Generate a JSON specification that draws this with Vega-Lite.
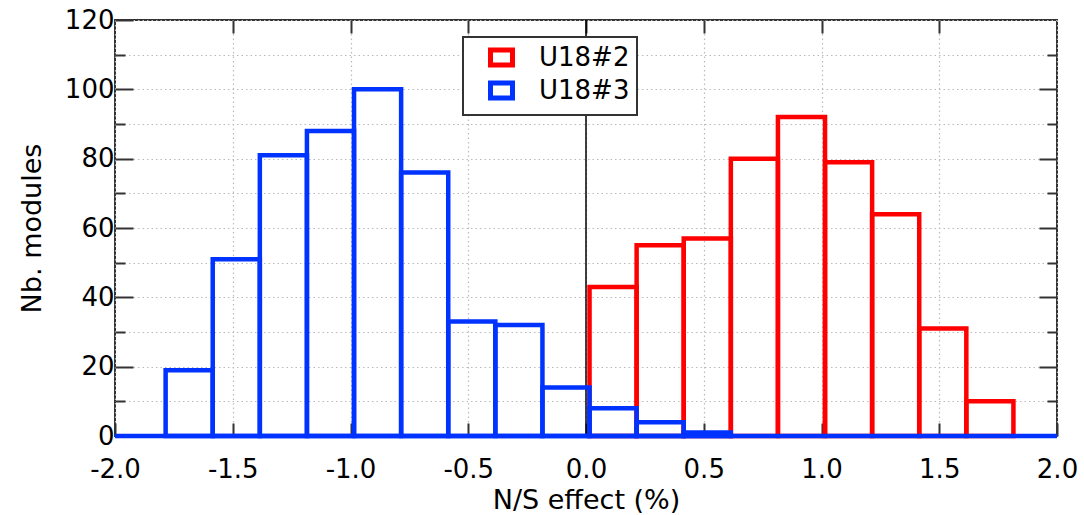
{
  "$schema": "https://vega.github.io/schema/vega-lite/v6.json",
  "width": 942,
  "height": 416,
  "autosize": "none",
  "padding": {"left": 115, "top": 20, "right": 27, "bottom": 79},
  "config": {
    "font": "DejaVu Sans",
    "view": {"stroke": "#333", "strokeWidth": 2},
    "axis": {
      "domain": false,
      "tickColor": "#333",
      "tickWidth": 2,
      "labelColor": "#000",
      "labelFontSize": 26,
      "labelFlush": false,
      "titleFontSize": 27,
      "titleFontWeight": "normal",
      "titleColor": "#000",
      "gridColor": "#bbbbbb",
      "gridDash": [1.5, 3],
      "gridWidth": 1.2
    },
    "legend": {
      "labelFontSize": 26,
      "labelColor": "#000"
    }
  },
  "resolve": {"axis": {"x": "independent", "y": "independent"}},
  "layer": [
    {
      "data": {"values": [{"x": 0, "y0": 0, "y1": 120}]},
      "mark": {"type": "rule", "color": "#000", "strokeWidth": 1.5},
      "encoding": {
        "x": {"field": "x", "type": "quantitative", "scale": {"domain": [-2, 2], "nice": false}, "axis": null},
        "y": {"field": "y0", "type": "quantitative", "scale": {"domain": [0, 120], "nice": false},
          "axis": {"orient": "right", "values": [10, 30, 50, 70, 90, 110], "tickSize": -10, "labels": false, "grid": false, "title": null}},
        "y2": {"field": "y1"}
      }
    },
    {
      "data": {"values": [
        {"series": "U18#2", "x0": 0.015, "x1": 0.215, "count": 43},
        {"series": "U18#2", "x0": 0.215, "x1": 0.415, "count": 55},
        {"series": "U18#2", "x0": 0.415, "x1": 0.615, "count": 57},
        {"series": "U18#2", "x0": 0.615, "x1": 0.815, "count": 80},
        {"series": "U18#2", "x0": 0.815, "x1": 1.015, "count": 92},
        {"series": "U18#2", "x0": 1.015, "x1": 1.215, "count": 79},
        {"series": "U18#2", "x0": 1.215, "x1": 1.415, "count": 64},
        {"series": "U18#2", "x0": 1.415, "x1": 1.615, "count": 31},
        {"series": "U18#2", "x0": 1.615, "x1": 1.815, "count": 10}
      ]},
      "mark": {"type": "rect", "filled": false, "strokeWidth": 4.5},
      "encoding": {
        "x": {"field": "x0", "type": "quantitative", "scale": {"domain": [-2, 2], "nice": false},
          "axis": {"orient": "bottom", "values": [-2, -1.5, -1, -0.5, 0, 0.5, 1, 1.5, 2], "labelExpr": "replace(format(datum.value, '.1f'), '\u2212', '-')", "tickSize": -13, "labelPadding": 33, "grid": true, "title": "N/S effect (%)", "titlePadding": 5}},
        "x2": {"field": "x1"},
        "y": {"field": "count", "type": "quantitative", "scale": {"domain": [0, 120], "nice": false},
          "axis": {"orient": "left", "values": [0, 20, 40, 60, 80, 100, 120], "tickSize": -18, "labelPadding": 19, "grid": true, "title": "Nb. modules", "titlePadding": 18}},
        "y2": {"datum": 0},
        "color": {"field": "series", "type": "nominal",
          "scale": {"domain": ["U18#2", "U18#3"], "range": ["#ff0000", "#0033ff"]},
          "legend": {"title": null, "orient": "none", "legendX": 348, "legendY": 17, "strokeColor": "#333", "fillColor": "#fff", "padding": 7, "symbolOffset": 18, "symbolType": "M-1,-0.68H1V0.68H-1Z", "symbolSize": 484, "symbolStrokeWidth": 5, "symbolFillColor": "#fff", "labelOffset": 24, "rowPadding": -2,
            "encode": {"legend": {"update": {"strokeWidth": {"value": 2}}}}}}
      }
    },
    {
      "data": {"values": [
        {"series": "U18#3", "x0": -1.785, "x1": -1.585, "count": 19},
        {"series": "U18#3", "x0": -1.585, "x1": -1.385, "count": 51},
        {"series": "U18#3", "x0": -1.385, "x1": -1.185, "count": 81},
        {"series": "U18#3", "x0": -1.185, "x1": -0.985, "count": 88},
        {"series": "U18#3", "x0": -0.985, "x1": -0.785, "count": 100},
        {"series": "U18#3", "x0": -0.785, "x1": -0.585, "count": 76},
        {"series": "U18#3", "x0": -0.585, "x1": -0.385, "count": 33},
        {"series": "U18#3", "x0": -0.385, "x1": -0.185, "count": 32},
        {"series": "U18#3", "x0": -0.185, "x1": 0.015, "count": 14},
        {"series": "U18#3", "x0": 0.015, "x1": 0.215, "count": 8},
        {"series": "U18#3", "x0": 0.215, "x1": 0.415, "count": 4},
        {"series": "U18#3", "x0": 0.415, "x1": 0.615, "count": 1}
      ]},
      "mark": {"type": "rect", "filled": false, "strokeWidth": 4.5},
      "encoding": {
        "x": {"field": "x0", "type": "quantitative", "scale": {"domain": [-2, 2], "nice": false},
          "axis": {"orient": "top", "values": [-1.5, -1, -0.5, 0, 0.5, 1, 1.5], "tickSize": -13, "labels": false, "grid": false, "title": null}},
        "x2": {"field": "x1"},
        "y": {"field": "count", "type": "quantitative", "scale": {"domain": [0, 120], "nice": false},
          "axis": {"orient": "right", "values": [20, 40, 60, 80, 100], "tickSize": -18, "labels": false, "grid": false, "title": null}},
        "y2": {"datum": 0},
        "color": {"field": "series", "type": "nominal",
          "scale": {"domain": ["U18#2", "U18#3"], "range": ["#ff0000", "#0033ff"]},
          "legend": {"title": null, "orient": "none", "legendX": 348, "legendY": 17, "strokeColor": "#333", "fillColor": "#fff", "padding": 7, "symbolOffset": 18, "symbolType": "M-1,-0.68H1V0.68H-1Z", "symbolSize": 484, "symbolStrokeWidth": 5, "symbolFillColor": "#fff", "labelOffset": 24, "rowPadding": -2,
            "encode": {"legend": {"update": {"strokeWidth": {"value": 2}}}}}}
      }
    },
    {
      "data": {"values": [{"x0": -2, "x1": 2, "y": 0}]},
      "mark": {"type": "rule", "color": "#0033ff", "strokeWidth": 4.5},
      "encoding": {
        "x": {"field": "x0", "type": "quantitative", "scale": {"domain": [-2, 2], "nice": false}, "axis": null},
        "x2": {"field": "x1"},
        "y": {"field": "y", "type": "quantitative", "scale": {"domain": [0, 120], "nice": false},
          "axis": {"orient": "left", "values": [10, 30, 50, 70, 90, 110], "tickSize": -10, "labels": false, "grid": true, "title": null}}
      }
    }
  ]
}
